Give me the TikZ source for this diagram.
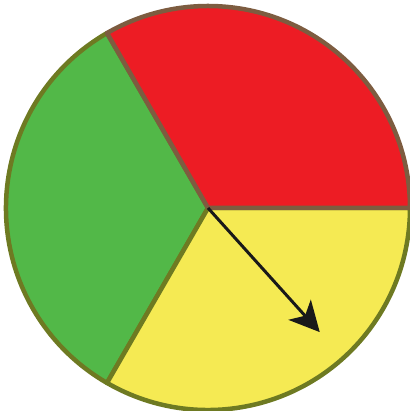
\documentclass[tikz,border=0pt]{standalone}
\usepackage{tikz}
\usetikzlibrary{arrows.meta,calc}
\definecolor{spinred}{HTML}{ED1C24}
\definecolor{spingreen}{HTML}{52B848}
\definecolor{spinyellow}{HTML}{F5EA53}
\definecolor{rim}{HTML}{7D5C40}
\definecolor{olive}{HTML}{6E7A22}
\tikzset{sector/.style={line width=4.5pt,line join=round},
  pointer/.style={-{Stealth[length=30pt,width=30pt,inset=8pt]},line width=3pt,draw=black!90}}

\begin{document}
\begin{tikzpicture}[x=1pt,y=1pt]
\useasboundingbox (0,0) rectangle (409,411);
\coordinate (c) at (208,203);
\draw[sector,fill=spingreen,draw=olive] (c) -- ++(120:202) arc (120:240:202) -- cycle;
\draw[sector,fill=spinyellow,draw=olive] (c) -- ++(240:202) arc (240:360:202) -- cycle;
\draw[sector,fill=spinred,draw=rim] (c) -- ++(0:202) arc (0:120:202) -- cycle;
\coordinate (tip) at ($(c)+(-48:167)$);
\draw[pointer] (c) -- (tip);
\end{tikzpicture}
\end{document}
